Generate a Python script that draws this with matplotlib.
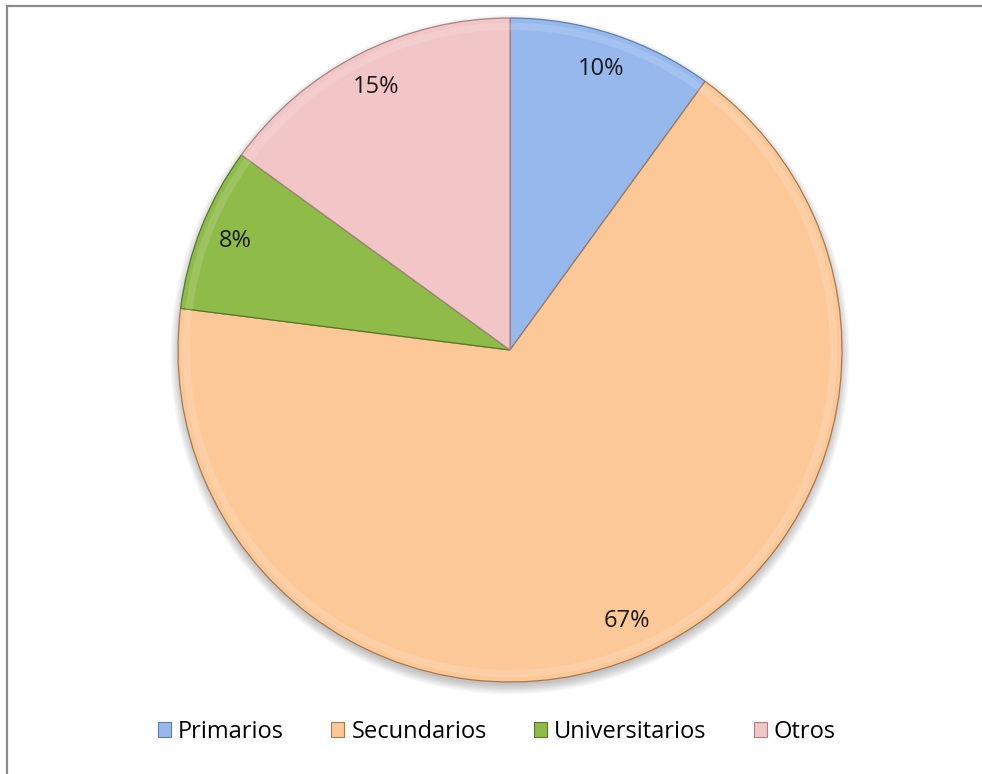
import matplotlib
matplotlib.use("Agg")
import matplotlib.pyplot as plt
from matplotlib.patches import Rectangle, Patch, Circle, Wedge

categories = ["Primarios", "Secundarios", "Universitarios", "Otros"]
values = [10, 67, 8, 15]
colors = ["#96B8ED", "#FCC898", "#8FBB48", "#F2C5C6"]
edge_colors = ["#5E7FAE", "#A8784E", "#55782A", "#A88384"]

plt.rcParams["font.family"] = ["Open Sans", "DejaVu Sans"]

fig = plt.figure(figsize=(9.82, 7.74), dpi=100)
fig.patch.set_facecolor("white")

# outer chart frame (only left and top edges fall inside the canvas)
fig.add_artist(Rectangle((7 / 982, -0.05), 1.2, 1 - 5.5 / 774 + 0.05,
                         transform=fig.transFigure, fill=False,
                         edgecolor="#8A8A8A", linewidth=1.6))

ax = fig.add_axes([178 / 982, 92 / 774, 664 / 982, 664 / 774])

# soft drop shadow under the pie
for i in range(8):
    ax.add_patch(Circle((0.0, -0.014), 0.995 + 0.004 * i, facecolor="#000000",
                        alpha=0.03, edgecolor="none", zorder=0, clip_on=False))

wedges, texts, autotexts = ax.pie(
    values, colors=colors, startangle=90, counterclock=False,
    autopct="%1.0f%%", pctdistance=0.89, radius=1.0,
    wedgeprops=dict(linewidth=1.0, edgecolor="white"),
    textprops=dict(fontsize=17, color="#1a1a1a"))
for w, ec in zip(wedges, edge_colors):
    w.set_edgecolor(ec)
    w.set_linewidth(0.9)
    w.set_zorder(2)
    w.set_clip_on(False)
    # light bevel just inside each slice
    ax.add_patch(Wedge(w.center, w.r - 0.014, w.theta1, w.theta2,
                       width=0.022, facecolor="white", alpha=0.14,
                       edgecolor="none", zorder=3))
for t in autotexts:
    t.set_zorder(5)

ax.set_xlim(-1, 1)
ax.set_ylim(-1, 1)
ax.set_aspect("equal")
ax.axis("off")

handles = [Patch(facecolor=c, edgecolor=e, linewidth=0.8)
           for c, e in zip(colors, edge_colors)]
fig.legend(handles, categories, loc="center", bbox_to_anchor=(497 / 982, 42 / 774),
           ncol=4, frameon=False, fontsize=17, handlelength=0.55, handleheight=0.6,
           handletextpad=0.3, columnspacing=2.0)

fig.savefig("out.png", dpi=100, facecolor="white")
